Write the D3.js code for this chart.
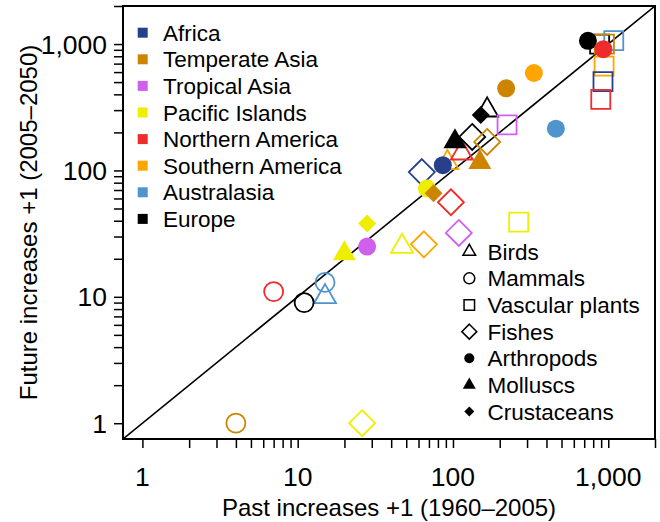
<!DOCTYPE html>
<html>
<head>
<meta charset="utf-8">
<script src="https://d3js.org/d3.v7.min.js"></script>
<style>
  body { margin: 0; background: #fff; }
  text { font-family: "Liberation Sans", Arial, Helvetica, sans-serif; fill: #000; }
</style>
</head>
<body>
<div id="chart"></div>
<script>

// regions (colour legend) and taxa (symbol legend)
var regions = ["Africa", "Temperate Asia", "Tropical Asia", "Pacific Islands",
               "Northern America", "Southern America", "Australasia", "Europe"];
var regionColors = ["#27408B", "#CD8500", "#D15FEE", "#EEEE00",
                    "#EE2C2C", "#FFA500", "#4F94CD", "#000000"];
var taxa = ["Birds", "Mammals", "Vascular plants", "Fishes",
            "Arthropods", "Molluscs", "Crustaceans"];

// one entry per point: region index, taxon index, past +1, future +1
var pointRegion = [7, 5, 4, 3, 6,
                   4, 6, 7, 1,
                   7, 6, 1, 5, 0, 4, 2, 3,
                   7, 1, 0, 4, 2, 5, 3,
                   7, 4, 6, 5, 1, 0, 3, 2,
                   7, 1, 3,
                   7, 1, 3];
var pointTaxon  = [0, 0, 0, 0, 0,
                   1, 1, 1, 1,
                   2, 2, 2, 2, 2, 2, 2, 2,
                   3, 3, 3, 3, 3, 3, 3,
                   4, 4, 4, 4, 4, 4, 4, 4,
                   5, 5, 5,
                   6, 6, 6];
var pastValues   = [166, 92, 114, 47, 15,
                    7, 15, 11, 4,
                    880, 1085, 945, 940, 925, 895, 223, 265,
                    133, 166, 63, 97, 109, 65, 26,
                    740, 930, 460, 332, 220, 86, 68, 28,
                    103, 149, 20,
                    151, 75, 28];
var futureValues = [300, 115, 137, 25, 10,
                    11, 13, 9, 1,
                    1000, 1065, 1000, 670, 505, 365, 229, 39,
                    184, 168, 97, 56, 32, 26, 1,
                    1060, 910, 214, 590, 446, 110, 72, 25,
                    169, 116, 22,
                    274, 66, 38];

var majorTicks = [1, 10, 100, 1000];
var majorLabels = ["1", "10", "100", "1,000"];

////////////////////////////////////////////////////////////////////////////////

var width = 660, height = 522;
var boxLeft = 123, boxRight = 655, boxTop = 6, boxBottom = 439;

var svg = d3.select("#chart").append("svg")
    .attr("width", width).attr("height", height);

var x = d3.scaleLog().domain([0.75, 2000]).range([boxLeft, boxRight]);
var y = d3.scaleLog().domain([0.75, 2000]).range([boxBottom, boxTop]);

// minor ticks 1..9 per decade, plus 2000 at the end
var allTicks = [];
[1, 10, 100].forEach(function(d) {
  for (var k = 1; k < 10; k++) allTicks.push(d * k);
});
allTicks.push(1000, 2000);

var xAxis = d3.axisBottom(x).tickValues(allTicks).tickSize(9).tickFormat("");
var yAxis = d3.axisLeft(y).tickValues(allTicks).tickSize(9).tickFormat("");

var gx = svg.append("g").attr("transform", "translate(0," + boxBottom + ")").call(xAxis);
var gy = svg.append("g").attr("transform", "translate(" + boxLeft + ",0)").call(yAxis);
[gx, gy].forEach(function(g) {
  g.select(".domain").remove();
  g.selectAll(".tick line").attr("stroke", "#000").attr("stroke-width", 1.5);
});

// tick labels on the decades only
svg.selectAll(".xlab").data(majorTicks).enter().append("text")
    .attr("x", function(d) { return x(d); })
    .attr("y", 486)
    .attr("text-anchor", "middle")
    .style("font-size", "26.5px")
    .text(function(d, i) { return majorLabels[i]; });

svg.selectAll(".ylab").data(majorTicks).enter().append("text")
    .attr("x", 107)
    .attr("y", function(d) { return y(d); })
    .attr("dy", "0.36em")
    .attr("text-anchor", "end")
    .style("font-size", "26.5px")
    .text(function(d, i) { return majorLabels[i]; });

// axis titles
svg.append("text")
    .attr("x", (boxLeft + boxRight) / 2).attr("y", 516)
    .attr("text-anchor", "middle")
    .style("font-size", "24px")
    .text("Past increases +1 (1960\u20132005)");

svg.append("text")
    .attr("transform", "translate(37," + (boxTop + boxBottom) / 2 + ") rotate(-90)")
    .attr("text-anchor", "middle")
    .style("font-size", "24px")
    .text("Future increases +1 (2005\u20132050)");

// 1:1 line, clipped to the box
svg.append("clipPath").attr("id", "plotclip")
  .append("rect").attr("x", boxLeft).attr("y", boxTop)
    .attr("width", boxRight - boxLeft).attr("height", boxBottom - boxTop);

svg.append("line")
    .attr("clip-path", "url(#plotclip)")
    .attr("x1", x(0.75)).attr("y1", y(0.75))
    .attr("x2", x(2000)).attr("y2", y(2000))
    .attr("stroke", "#000").attr("stroke-width", 1.6);

////////////////////////////////////////////////////////////////////////////////

// diamond drawn as a square on its corner, size = area
var symbolRhomb = {
  draw: function(context, size) {
    var r = Math.sqrt(size / 2);
    context.moveTo(0, -r);
    context.lineTo(r, 0);
    context.lineTo(0, r);
    context.lineTo(-r, 0);
    context.closePath();
  }
};

// symbol type, area in the plot, area in the legend, filled or not
var taxonType   = [d3.symbolTriangle, d3.symbolCircle, d3.symbolSquare, symbolRhomb,
                   d3.symbolCircle, d3.symbolTriangle, symbolRhomb];
var taxonSize   = [210, 284, 361, 338, 254, 229, 162];
var taxonKey    = [70, 95, 110, 112, 79, 73, 50];
var taxonFilled = [false, false, false, false, true, true, true];

function drawSymbol(g, t, color, size, sw) {
  var p = g.append("path")
      .attr("d", d3.symbol().type(taxonType[t]).size(size)());
  if (taxonFilled[t]) {
    p.attr("fill", color).attr("stroke", "none");
  } else {
    p.attr("fill", "none").attr("stroke", color).attr("stroke-width", sw);
  }
  return p;
}

var pointsGroup = svg.append("g");
pastValues.forEach(function(v, i) {
  var g = pointsGroup.append("g")
      .attr("transform", "translate(" + x(v) + "," + y(futureValues[i]) + ")");
  drawSymbol(g, pointTaxon[i], regionColors[pointRegion[i]], taxonSize[pointTaxon[i]], 1.8);
});

// frame
svg.append("rect")
    .attr("x", boxLeft).attr("y", boxTop)
    .attr("width", boxRight - boxLeft).attr("height", boxBottom - boxTop)
    .attr("fill", "none").attr("stroke", "#000").attr("stroke-width", 2);

////////////////////////////////////////////////////////////////////////////////

// colour legend, top left
var regionLegend = svg.append("g");
regions.forEach(function(name, i) {
  var yy = 32.7 + i * 26.6;
  regionLegend.append("rect")
      .attr("x", 137.7).attr("y", yy - 5)
      .attr("width", 10).attr("height", 10)
      .attr("fill", regionColors[i]);
  regionLegend.append("text")
      .attr("x", 163).attr("y", yy).attr("dy", "0.36em")
      .style("font-size", "22.5px")
      .text(name);
});

// symbol legend, bottom right
var taxonLegend = svg.append("g");
taxa.forEach(function(name, i) {
  var yy = 251.7 + i * 26.65;
  var g = taxonLegend.append("g").attr("transform", "translate(469.3," + yy + ")");
  drawSymbol(g, i, "#000", taxonKey[i], 1.5);
  taxonLegend.append("text")
      .attr("x", 487.5).attr("y", yy).attr("dy", "0.36em")
      .style("font-size", "22.5px")
      .text(name);
});

</script>
</body>
</html>
